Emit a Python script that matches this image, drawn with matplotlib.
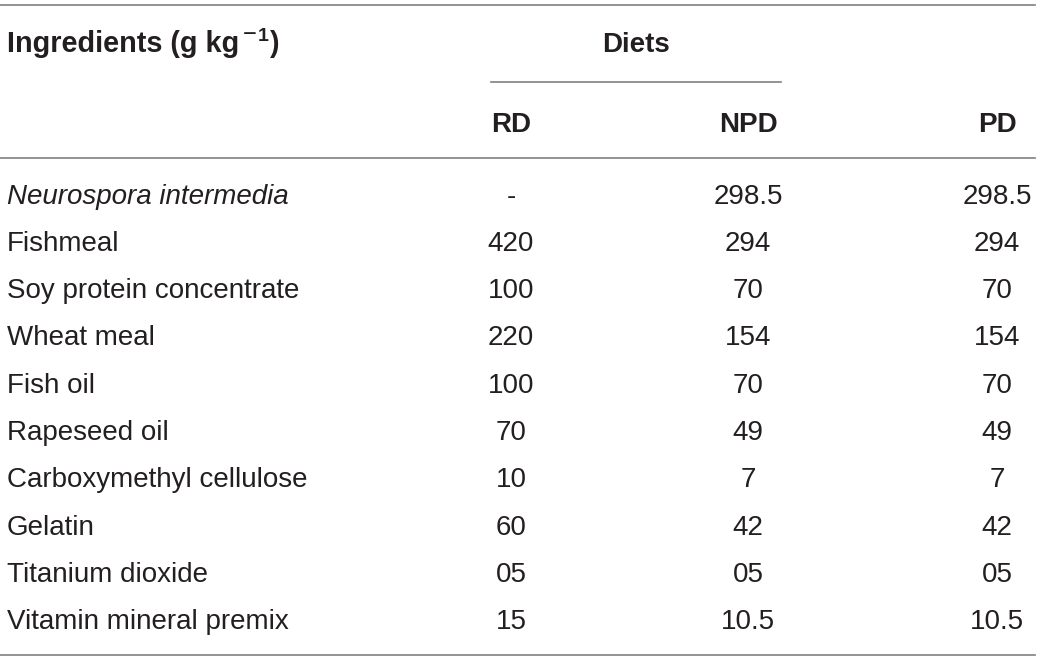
import matplotlib
matplotlib.use("Agg")
import matplotlib.pyplot as plt

ingredients = ["Neurospora intermedia", "Fishmeal", "Soy protein concentrate", "Wheat meal",
               "Fish oil", "Rapeseed oil", "Carboxymethyl cellulose", "Gelatin",
               "Titanium dioxide", "Vitamin mineral premix"]
rd = ["-", "420", "100", "220", "100", "70", "10", "60", "05", "15"]
npd = ["298.5", "294", "70", "154", "70", "49", "7", "42", "05", "10.5"]
pd_ = ["298.5", "294", "70", "154", "70", "49", "7", "42", "05", "10.5"]
columns = ["RD", "NPD", "PD"]
group_label = "Diets"
header_parts = ["Ingredients (g kg", "\u2212", "1", ")"]

FONT = "Liberation Sans"
TXT = "#231f20"
LINE = "#808080"
FS = 20

fig = plt.figure(figsize=(10.4, 6.61), dpi=100)
ax = fig.add_axes([0, 0, 1, 1])
ax.set_xlim(0, 1040)
ax.set_ylim(661, 0)
ax.axis("off")

# rules
ax.plot([0, 1035], [5, 5], color=LINE, lw=1.2)
ax.plot([491, 781], [82, 82], color=LINE, lw=1.2)
ax.plot([0, 1035], [158, 158], color=LINE, lw=1.2)
ax.plot([0, 1035], [655, 655], color=LINE, lw=1.2)

inv = ax.transData.inverted()


def put(x, y, s, size, **kw):
    t = ax.text(x, y, s, fontsize=size, family=FONT, color=TXT, **kw)
    fig.canvas.draw()
    bb = t.get_window_extent()
    return inv.transform((bb.x1, 0))[0]


x = put(7, 52, header_parts[0], 20.8, fontweight="bold", va="baseline", ha="left")
x = put(x + 4, 41, header_parts[1], 17, fontweight="normal", va="baseline", ha="left")
x = put(x + 1, 41, header_parts[2], 14, fontweight="bold", va="baseline", ha="left")
put(x + 1, 52, header_parts[3], 20.8, fontweight="bold", va="baseline", ha="left")

ax.text(636, 52, group_label, fontsize=FS, fontweight="bold", family=FONT,
        color=TXT, va="baseline", ha="center")

col_x = [511, 748, 997]
for cx, c in zip(col_x, columns):
    ax.text(cx, 132, c, fontsize=FS, fontweight="bold", family=FONT,
            color=TXT, va="baseline", ha="center")

y0, dy = 203.5, 47.3
for i, name in enumerate(ingredients):
    y = y0 + i * dy
    ax.text(7, y, name, fontsize=FS, family=FONT, color=TXT, va="baseline", ha="left",
            style="italic" if i == 0 else "normal")
    for cx, vals in zip(col_x, [rd, npd, pd_]):
        ax.text(cx, y, vals[i], fontsize=FS, family=FONT, color=TXT,
                va="baseline", ha="center")

fig.savefig("out.png", dpi=100)
